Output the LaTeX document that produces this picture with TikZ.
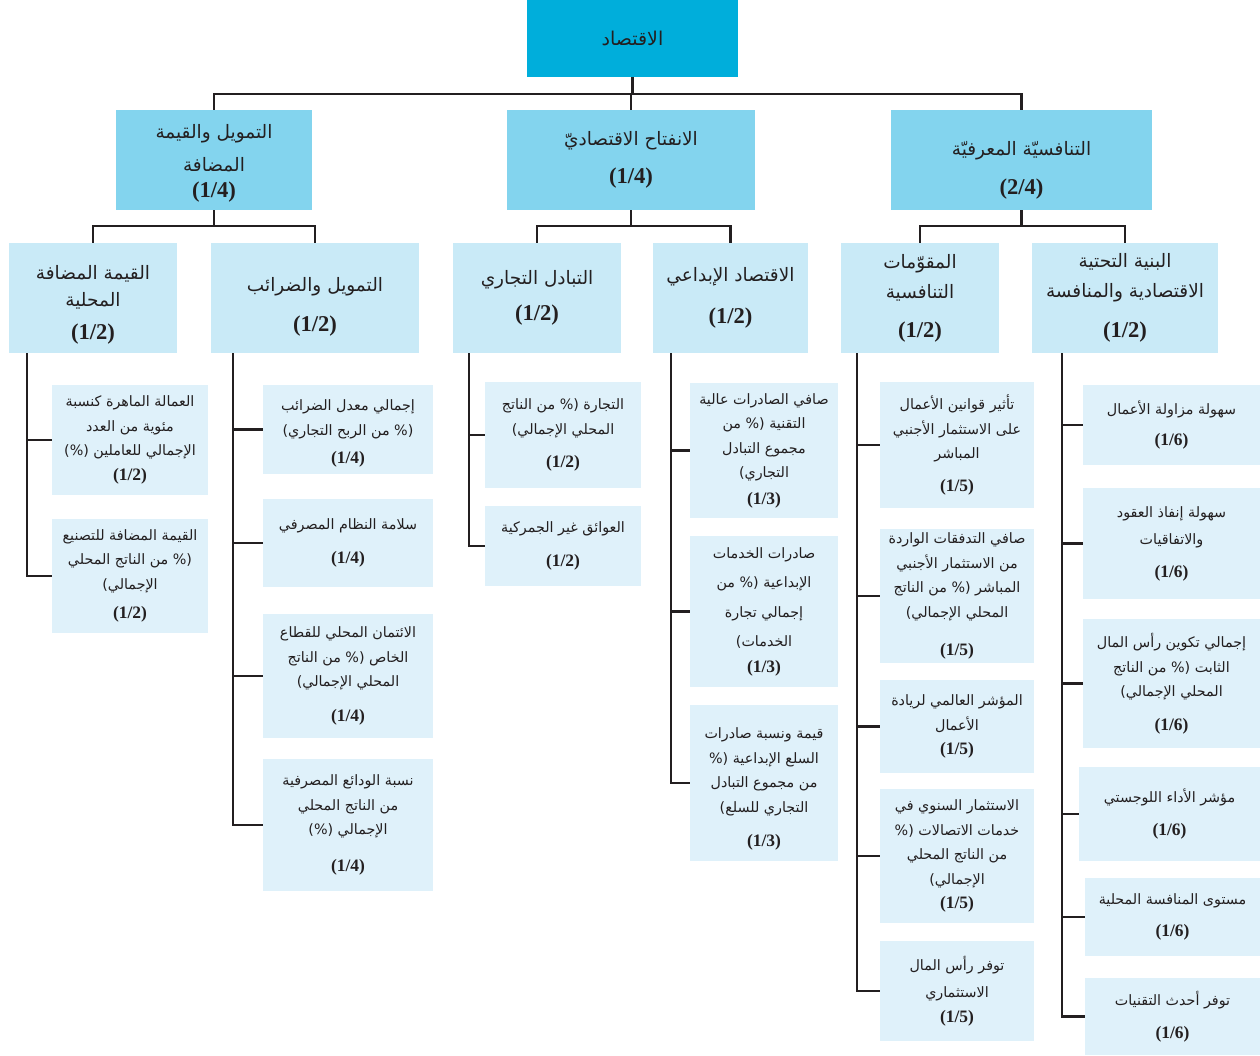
\documentclass[tikz,border=0pt]{standalone}
\usepackage{fontspec}
\TeXXeTstate=1
\newfontfamily\arabicfont[Script=Arabic]{DejaVu Sans}
\newfontfamily\fracfont[Scale=1.22]{Liberation Serif}
% one line of right-to-left text
\newcommand\arl[1]{{\arabicfont\beginR #1\endR}}
% weight shown under each label
\newcommand\wt[1]{{\fracfont\bfseries (#1)}}
% taller first line, to set a label lower in its box
\newcommand\lowr[1]{\rule{0pt}{#1}}
\definecolor{ink}{HTML}{231F20}
\definecolor{cRoot}{HTML}{00AEDB}
\definecolor{cTop}{HTML}{83D4EE}
\definecolor{cMid}{HTML}{C9EAF7}
\definecolor{cLeaf}{HTML}{DFF1FA}
\begin{document}
\begin{tikzpicture}[x=1pt,y=-1pt,
  box/.style={inner sep=2pt, align=center, text=ink, anchor=center},
  rootbox/.style={box, fill=cRoot, font=\fontsize{19}{22}\selectfont},
  topbox/.style={box, fill=cTop, font=\fontsize{18.5}{31}\selectfont},
  midbox/.style={box, fill=cMid, font=\fontsize{18.5}{30}\selectfont},
  leaf/.style={box, fill=cLeaf, font=\fontsize{14.3}{24.5}\selectfont},
  conn/.style={draw=ink, line width=2.6pt, line join=miter}]
\useasboundingbox (0,0) rectangle (1260,1055);

% ---------- root and first level ----------
\node[rootbox, minimum width=211pt, minimum height=77pt] (root) at (632.5,38.5) {\arl{الاقتصاد}};

\node[topbox, minimum width=196pt, minimum height=100pt] (t1) at (214,160)
  {\lowr{20pt}\arl{التمويل والقيمة}\\[2pt]\arl{المضافة}\\[-5pt]\wt{1/4}};
\node[topbox, minimum width=248pt, minimum height=100pt] (t2) at (631,160)
  {\arl{الانفتاح الاقتصاديّ}\\[7pt]\wt{1/4}};
\node[topbox, minimum width=261pt, minimum height=100pt] (t3) at (1021.5,160)
  {\lowr{35pt}\arl{التنافسيّة المعرفيّة}\\[8pt]\wt{2/4}};

% ---------- second level ----------
\node[midbox, minimum width=168pt, minimum height=110pt] (m11) at (93,298)
  {\lowr{27pt}\arl{القيمة المضافة}\\[-3pt]\arl{المحلية}\\[3pt]\wt{1/2}};
\node[midbox, minimum width=208pt, minimum height=110pt] (m12) at (315,298)
  {\lowr{31pt}\arl{التمويل والضرائب}\\[10pt]\wt{1/2}};
\node[midbox, minimum width=168pt, minimum height=110pt] (m21) at (537,298)
  {\arl{التبادل التجاري}\\[6pt]\wt{1/2}};
\node[midbox, minimum width=155pt, minimum height=110pt] (m22) at (730.5,298)
  {\arl{الاقتصاد الإبداعي}\\[12pt]\wt{1/2}};
\node[midbox, minimum width=158pt, minimum height=110pt] (m31) at (920,298)
  {\arl{المقوّمات}\\\arl{التنافسية}\\[9pt]\wt{1/2}};
\node[midbox, minimum width=186pt, minimum height=110pt] (m32) at (1125,298)
  {\arl{البنية التحتية}\\\arl{الاقتصادية والمنافسة}\\[10pt]\wt{1/2}};

% ---------- indicators: local value added ----------
\node[leaf, minimum width=156pt, minimum height=110pt] (a11) at (130,440)
  {\arl{العمالة الماهرة كنسبة}\\\arl{مئوية من العدد}\\\arl{الإجمالي للعاملين (\%)}\\\wt{1/2}};
\node[leaf, minimum width=156pt, minimum height=114pt] (a12) at (130,576)
  {\arl{القيمة المضافة للتصنيع}\\\arl{(\% من الناتج المحلي}\\\arl{الإجمالي)}\\[5pt]\wt{1/2}};

% ---------- indicators: finance and taxes ----------
\node[leaf, minimum width=170pt, minimum height=89pt] (a21) at (348,429.5)
  {\lowr{19pt}\arl{إجمالي معدل الضرائب}\\\arl{(\% من الربح التجاري)}\\[4pt]\wt{1/4}};
\node[leaf, minimum width=170pt, minimum height=88pt] (a22) at (348,543)
  {\arl{سلامة النظام المصرفي}\\[10pt]\wt{1/4}};
\node[leaf, minimum width=170pt, minimum height=124pt] (a23) at (348,676)
  {\arl{الائتمان المحلي للقطاع}\\\arl{الخاص (\% من الناتج}\\\arl{المحلي الإجمالي)}\\[10pt]\wt{1/4}};
\node[leaf, minimum width=170pt, minimum height=132pt] (a24) at (348,825)
  {\arl{نسبة الودائع المصرفية}\\\arl{من الناتج المحلي}\\\arl{الإجمالي (\%)}\\[12pt]\wt{1/4}};

% ---------- indicators: trade ----------
\node[leaf, minimum width=156pt, minimum height=106pt] (b11) at (563,435)
  {\arl{التجارة (\% من الناتج}\\\arl{المحلي الإجمالي)}\\[9pt]\wt{1/2}};
\node[leaf, minimum width=156pt, minimum height=80pt] (b12) at (563,546)
  {\arl{العوائق غير الجمركية}\\[10pt]\wt{1/2}};

% ---------- indicators: creative economy ----------
\node[leaf, minimum width=148pt, minimum height=135pt] (b21) at (764,450.5)
  {\arl{صافي الصادرات عالية}\\\arl{التقنية (\% من}\\\arl{مجموع التبادل}\\\arl{التجاري)}\\[2pt]\wt{1/3}};
\node[leaf, minimum width=148pt, minimum height=151pt] (b22) at (764,611.5)
  {\arl{صادرات الخدمات}\\[5pt]\arl{الإبداعية (\% من}\\[5pt]\arl{إجمالي تجارة}\\[5pt]\arl{الخدمات)}\\[1pt]\wt{1/3}};
\node[leaf, minimum width=148pt, minimum height=156pt] (b23) at (764,783)
  {\lowr{23pt}\arl{قيمة ونسبة صادرات}\\\arl{السلع الإبداعية (\%}\\\arl{من مجموع التبادل}\\\arl{التجاري للسلع)}\\[10pt]\wt{1/3}};

% ---------- indicators: competitive factors ----------
\node[leaf, minimum width=154pt, minimum height=126pt] (c11) at (957,445)
  {\arl{تأثير قوانين الأعمال}\\\arl{على الاستثمار الأجنبي}\\\arl{المباشر}\\[8pt]\wt{1/5}};
\node[leaf, minimum width=154pt, minimum height=134pt] (c12) at (957,596)
  {\arl{صافي التدفقات الواردة}\\\arl{من الاستثمار الأجنبي}\\\arl{المباشر (\% من الناتج}\\\arl{المحلي الإجمالي)}\\[14pt]\wt{1/5}};
\node[leaf, minimum width=154pt, minimum height=93pt] (c13) at (957,726.5)
  {\arl{المؤشر العالمي لريادة}\\\arl{الأعمال}\\\wt{1/5}};
\node[leaf, minimum width=154pt, minimum height=134pt] (c14) at (957,856)
  {\arl{الاستثمار السنوي في}\\\arl{خدمات الاتصالات (\%}\\\arl{من الناتج المحلي}\\\arl{الإجمالي)}\\\wt{1/5}};
\node[leaf, minimum width=154pt, minimum height=100pt] (c15) at (957,991)
  {\arl{توفر رأس المال}\\[3pt]\arl{الاستثماري}\\\wt{1/5}};

% ---------- indicators: infrastructure and competition ----------
\node[leaf, minimum width=177pt, minimum height=80pt] (c21) at (1171.5,425)
  {\arl{سهولة مزاولة الأعمال}\\[7pt]\wt{1/6}};
\node[leaf, minimum width=177pt, minimum height=111pt] (c22) at (1171.5,543.5)
  {\arl{سهولة إنفاذ العقود}\\[3pt]\arl{والاتفاقيات}\\[8pt]\wt{1/6}};
\node[leaf, minimum width=177pt, minimum height=129pt] (c23) at (1171.5,683.5)
  {\arl{إجمالي تكوين رأس المال}\\\arl{الثابت (\% من الناتج}\\\arl{المحلي الإجمالي)}\\[9pt]\wt{1/6}};
\node[leaf, minimum width=181pt, minimum height=94pt] (c24) at (1169.5,814)
  {\arl{مؤشر الأداء اللوجستي}\\[8pt]\wt{1/6}};
\node[leaf, minimum width=175pt, minimum height=78pt] (c25) at (1172.5,917)
  {\arl{مستوى المنافسة المحلية}\\[7pt]\wt{1/6}};
\node[leaf, minimum width=175pt, minimum height=77pt] (c26) at (1172.5,1016.5)
  {\arl{توفر أحدث التقنيات}\\[8pt]\wt{1/6}};

% ---------- connectors between levels ----------
\coordinate (bar0) at (0,94);
\coordinate (bar1) at (0,226);
\draw[conn] (root.south) -- (root.south |- bar0);
\draw[conn] (t1.north) -- (t1.north |- bar0) -- (t3.north |- bar0) -- (t3.north);
\draw[conn] (t2.north) -- (t2.north |- bar0);

\draw[conn] (t1.south) -- (t1.south |- bar1);
\draw[conn] (m11.north) -- (m11.north |- bar1) -- (m12.north |- bar1) -- (m12.north);
\draw[conn] (t2.south) -- (t2.south |- bar1);
\draw[conn] (m21.north) -- (m21.north |- bar1) -- (m22.north |- bar1) -- (m22.north);
\draw[conn] (t3.south) -- (t3.south |- bar1);
\draw[conn] (m31.north) -- (m31.north |- bar1) -- (m32.north |- bar1) -- (m32.north);

% ---------- spines down to the indicators ----------
\coordinate (s11) at (27,353);
\coordinate (s12) at (233,353);
\coordinate (s21) at (469,353);
\coordinate (s22) at (671,353);
\coordinate (s31) at (857,353);
\coordinate (s32) at (1062,353);
\foreach \n in {a11,a12} \draw[conn] (s11) |- (\n.west);
\foreach \n in {a21,a22,a23,a24} \draw[conn] (s12) |- (\n.west);
\foreach \n in {b11,b12} \draw[conn] (s21) |- (\n.west);
\foreach \n in {b21,b22,b23} \draw[conn] (s22) |- (\n.west);
\foreach \n in {c11,c12,c13,c14,c15} \draw[conn] (s31) |- (\n.west);
\foreach \n in {c21,c22,c23,c24,c25,c26} \draw[conn] (s32) |- (\n.west);
\end{tikzpicture}
\end{document}
